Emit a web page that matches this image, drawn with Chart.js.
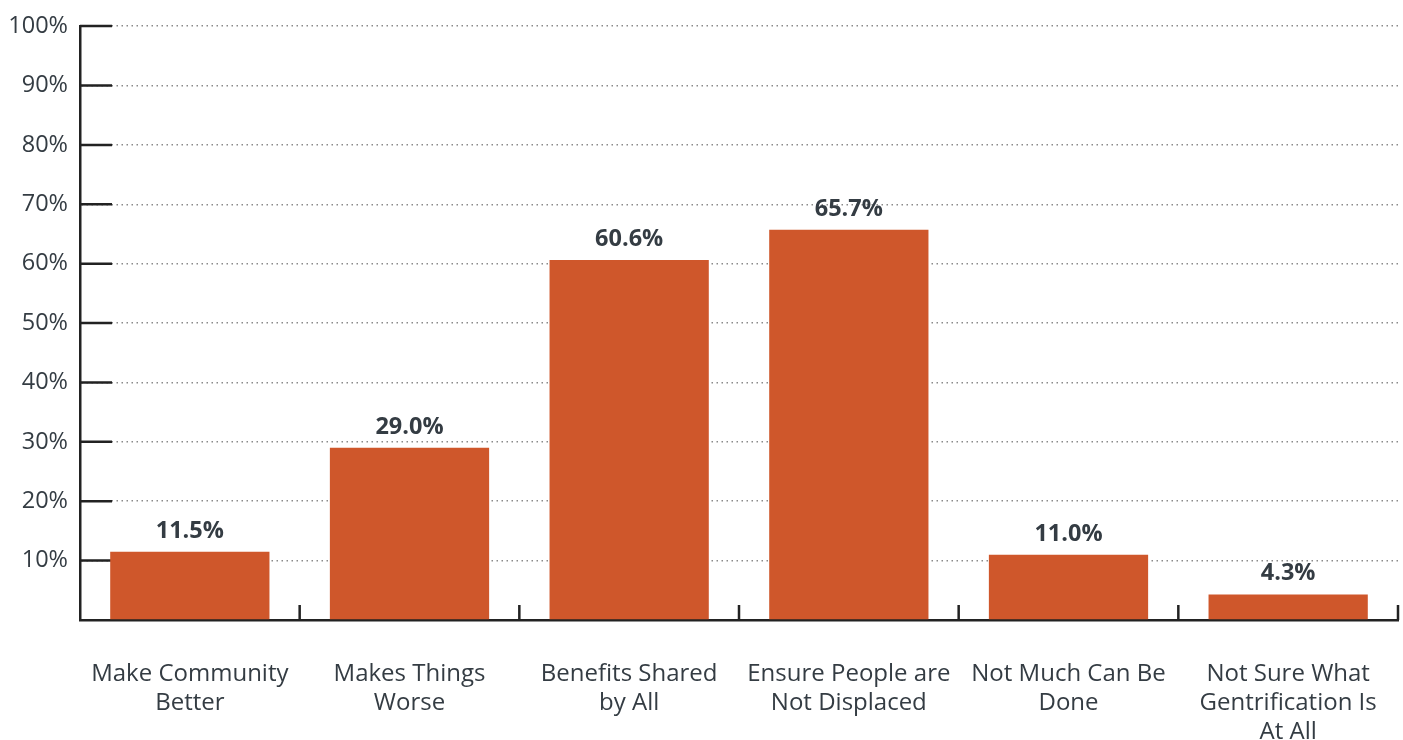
<!DOCTYPE html>
<html>
<head>
<meta charset="utf-8">
<script src="https://cdn.jsdelivr.net/npm/chart.js@4"></script>
<style>
  html, body { margin: 0; padding: 0; background: #fff; }
  #wrap { width: 1403px; height: 740px; }
</style>
</head>
<body>
<div id="wrap"><canvas id="myChart" width="1403" height="740"></canvas></div>
<script>
var categories = [
  ['Make Community', 'Better'],
  ['Makes Things', 'Worse'],
  ['Benefits Shared', 'by All'],
  ['Ensure People are', 'Not Displaced'],
  ['Not Much Can Be', 'Done'],
  ['Not Sure What', 'Gentrification Is', 'At All']
];
var shares = [11.5, 29.0, 60.6, 65.7, 11.0, 4.3];
var yTicks = [0, 10, 20, 30, 40, 50, 60, 70, 80, 90, 100];

var textColor = '#343c43';
var axisColor = '#222';

// solid tick stubs on the inside of both axes + value labels
var axisMarks = {
  id: 'axisMarks',
  beforeDatasetsDraw: function(chart) {
    var ctx = chart.ctx, a = chart.chartArea;
    var x = chart.scales.x, y = chart.scales.y;
    ctx.save();
    ctx.strokeStyle = axisColor;
    ctx.lineWidth = 2.5;
    ctx.beginPath();
    for (var i = 1; i < yTicks.length; i++) {
      var py = y.getPixelForValue(yTicks[i]);
      ctx.moveTo(a.left, py);
      ctx.lineTo(a.left + 32, py);
    }
    var step = (a.right - a.left) / categories.length;
    for (var j = 1; j <= categories.length; j++) {
      var px = x.getPixelForValue(j - 1) + step / 2;
      ctx.moveTo(px, a.bottom);
      ctx.lineTo(px, a.bottom - 15);
    }
    ctx.stroke();
    ctx.restore();
  },
  afterDatasetsDraw: function(chart) {
    var ctx = chart.ctx;
    var meta = chart.getDatasetMeta(0);
    ctx.save();
    ctx.fillStyle = textColor;
    ctx.font = 'bold 23.5px "Open Sans"';
    ctx.textAlign = 'center';
    ctx.textBaseline = 'alphabetic';
    meta.data.forEach(function(bar, i) {
      ctx.fillText(shares[i].toFixed(1) + '%', bar.x, bar.y - 14);
    });
    ctx.restore();
  }
};

var ctx = document.getElementById('myChart');
var myChart = new Chart(ctx, {
  type: 'bar',
  data: {
    labels: categories,
    datasets: [
      {
        data: shares,
        backgroundColor: '#cf572b',
        categoryPercentage: 1,
        barPercentage: 0.725
      }
    ]
  },
  options: {
    responsive: false,
    animation: false,
    layout: { padding: { top: 23, right: 5, left: 0, bottom: 0 } },
    plugins: {
      legend: { display: false },
      tooltip: { enabled: false }
    },
    scales: {
      x: {
        grid: { display: false, drawTicks: false },
        border: { display: true, color: axisColor, width: 2.5 },
        ticks: {
          color: textColor,
          font: { family: 'Open Sans', size: 24, lineHeight: 1.2 },
          padding: 40,
          maxRotation: 0,
          autoSkip: false
        },
        afterFit: function(scale) {
          scale.height = 120;
          scale.paddingLeft = 0;
          scale.paddingRight = 0;
        }
      },
      y: {
        min: 0,
        max: 100,
        afterBuildTicks: function(scale) {
          scale.ticks = yTicks.map(function(v) { return { value: v }; });
        },
        grid: {
          color: function(c) { return c.tick.value === 0 ? 'rgba(0,0,0,0)' : '#8a8a8a'; },
          lineWidth: 1.5,
          drawTicks: false
        },
        border: { display: true, color: axisColor, width: 2.5, dash: [1.5, 3.5] },
        ticks: {
          color: textColor,
          font: { family: 'Open Sans', size: 23.5 },
          padding: 12,
          callback: function(v) { return v === 0 ? '' : v + '%'; }
        },
        afterFit: function(scale) { scale.width = 80; }
      }
    }
  },
  plugins: [axisMarks]
});
</script>
</body>
</html>
